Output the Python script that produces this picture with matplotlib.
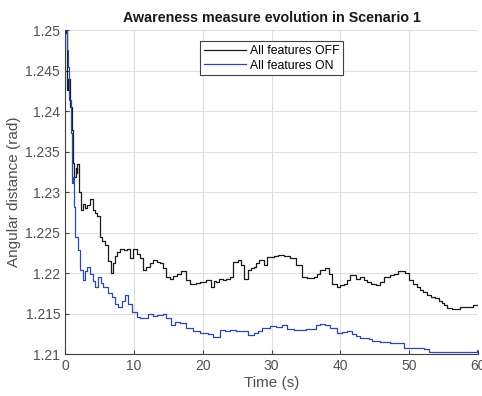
import numpy as np
import matplotlib
matplotlib.use('Agg')
import matplotlib.pyplot as plt

# -----------------------------------------------------------------------------
# data
# -----------------------------------------------------------------------------
t_off = [0.0, 0.14, 0.24, 0.45, 0.72, 0.97, 1.16, 1.35, 1.55, 1.7, 1.8, 2.0,
         2.07, 2.3, 2.65, 2.9, 3.2, 3.6, 4.0, 4.3, 4.6, 5.07, 5.4, 5.8, 6.2,
         6.66, 7.0, 7.25, 7.6, 7.97, 8.5, 8.94, 9.4, 9.9, 10.4, 10.9, 11.35,
         11.8, 12.3, 12.8, 13.3, 13.77, 14.2, 14.7, 15.2, 15.7, 16.2, 16.9,
         17.6, 18.1, 19.0, 19.6, 20.5, 21.2, 21.6, 21.97, 22.4, 22.9, 23.4,
         23.9, 24.4, 25.1, 25.5, 26.0, 26.5, 27.0, 27.4, 27.8, 28.2, 28.9,
         29.4, 30.3, 31.0, 31.8, 32.7, 33.5, 34.4, 35.2, 36.1, 36.6, 37.1,
         37.8, 38.3, 38.8, 39.5, 40.0, 40.5, 41.0, 41.4, 42.2, 42.9, 43.4,
         43.9, 44.5, 45.1, 45.7, 46.3, 47.2, 47.8, 48.4, 49.4, 49.9, 50.6,
         51.1, 51.6, 52.0, 52.5, 53.1, 53.8, 54.3, 54.7, 55.1, 55.5, 56.2,
         56.9, 57.4, 58.1, 58.8, 59.3, 59.9, 60.0]
v_off = [1.2500, 1.2496, 1.2426, 1.2440, 1.2405, 1.2377, 1.2336, 1.2318,
         1.2330, 1.2323, 1.2335, 1.2316, 1.2300, 1.2278, 1.2285, 1.2280,
         1.2284, 1.2292, 1.2278, 1.2274, 1.2270, 1.2245, 1.2240, 1.2235,
         1.2215, 1.2200, 1.2212, 1.2221, 1.2226, 1.2230, 1.2228, 1.2230,
         1.2219, 1.2230, 1.2224, 1.2218, 1.2204, 1.2208, 1.2212, 1.2216,
         1.2214, 1.2212, 1.2206, 1.2195, 1.2193, 1.2196, 1.2199, 1.2203,
         1.2191, 1.2187, 1.2188, 1.2189, 1.2191, 1.2183, 1.2190, 1.2189,
         1.2193, 1.2191, 1.2193, 1.2195, 1.2214, 1.2216, 1.2210, 1.2193,
         1.2204, 1.2206, 1.2208, 1.2212, 1.2216, 1.2210, 1.2220, 1.2221,
         1.2222, 1.2221, 1.2218, 1.2210, 1.2195, 1.2194, 1.2195, 1.2199,
         1.2204, 1.2206, 1.2199, 1.2187, 1.2183, 1.2185, 1.2187, 1.2192,
         1.2198, 1.2193, 1.2195, 1.2192, 1.2189, 1.2187, 1.2185, 1.2189,
         1.2195, 1.2197, 1.2199, 1.2202, 1.2200, 1.2191, 1.2187, 1.2183,
         1.2179, 1.2176, 1.2173, 1.2171, 1.2169, 1.2166, 1.2163, 1.2160,
         1.2157, 1.2156, 1.2155, 1.2158, 1.2158, 1.2158, 1.2161, 1.2160,
         1.2160]

t_on = [0.0, 0.14, 0.34, 0.48, 0.63, 0.82, 1.01, 1.2, 1.3, 1.45, 1.9, 2.2,
        2.65, 2.9, 3.14, 3.6, 4.0, 4.35, 4.8, 5.2, 5.55, 6.3, 6.8, 7.25,
        7.7, 8.2, 8.7, 9.2, 9.66, 10.4, 10.9, 11.35, 12.07, 12.7, 13.3,
        14.2, 14.7, 15.45, 16.0, 16.65, 17.6, 18.6, 19.55, 20.75, 21.5,
        22.45, 23.2, 23.9, 24.9, 25.5, 26.5, 27.4, 28.0, 28.6, 29.8, 30.6,
        31.5, 32.3, 33.2, 34.2, 35.0, 35.9, 36.4, 37.1, 37.8, 38.5, 39.5,
        40.2, 40.95, 41.7, 42.3, 42.9, 44.1, 44.6, 45.8, 47.2, 48.7, 49.2,
        50.5, 52.1, 52.8, 53.5, 54.5, 56.9, 58.5, 59.3, 59.8, 60.0]
v_on = [1.2500, 1.2502, 1.2475, 1.2455, 1.2414, 1.2373, 1.2311, 1.2319,
        1.2282, 1.2245, 1.2228, 1.2204, 1.2191, 1.2202, 1.2208, 1.2199,
        1.2190, 1.2183, 1.2195, 1.2188, 1.2183, 1.2175, 1.2170, 1.2162,
        1.2158, 1.2165, 1.2173, 1.2162, 1.2152, 1.2146, 1.2145, 1.2144,
        1.2150, 1.2147, 1.2148, 1.2150, 1.2144, 1.2136, 1.2139, 1.2138,
        1.2132, 1.2128, 1.2126, 1.2125, 1.2121, 1.2130, 1.2129, 1.2130,
        1.2128, 1.2128, 1.2124, 1.2126, 1.2129, 1.2132, 1.2134, 1.2133,
        1.2136, 1.2131, 1.2130, 1.2130, 1.2131, 1.2131, 1.2136, 1.2137,
        1.2136, 1.2132, 1.2126, 1.2127, 1.2128, 1.2125, 1.2122, 1.2120,
        1.2119, 1.2116, 1.2115, 1.2114, 1.2113, 1.2108, 1.2107, 1.2106,
        1.2103, 1.2103, 1.2102, 1.2102, 1.2102, 1.2103, 1.2105, 1.2105]

xticks = [0, 10, 20, 30, 40, 50, 60]
yticks = [1.21, 1.215, 1.22, 1.225, 1.23, 1.235, 1.24, 1.245, 1.25]
ytick_labels = ['1.21', '1.215', '1.22', '1.225', '1.23', '1.235', '1.24',
                '1.245', '1.25']

# -----------------------------------------------------------------------------
# plot
# -----------------------------------------------------------------------------
plt.rcParams['font.family'] = ['Liberation Sans', 'DejaVu Sans']

fig = plt.figure(figsize=(4.82, 3.96), dpi=100)
ax = fig.add_axes([0.135, 0.106, 0.857, 0.818])

ax.plot(t_off, v_off, color='#1a1a1a', linewidth=0.9, drawstyle='steps-post',
        label='All features OFF')
ax.plot(t_on, v_on, color='#2b4aa8', linewidth=0.9, drawstyle='steps-post',
        label='All features ON')

ax.set_xlim(0, 60)
ax.set_ylim(1.21, 1.25)
ax.set_xticks(xticks)
ax.set_yticks(yticks)
ax.set_yticklabels(ytick_labels)

ax.grid(True, color='#dedede', linewidth=0.8)
ax.set_axisbelow(True)

# matlab-ish box off
for side in ['top', 'right']:
    ax.spines[side].set_visible(False)
for side in ['left', 'bottom']:
    ax.spines[side].set_color('#404040')
    ax.spines[side].set_linewidth(0.8)
ax.tick_params(axis='both', direction='in', length=3, width=0.8,
               colors='#404040', labelsize=10, labelcolor='#505050')

ax.set_xlabel('Time (s)', fontsize=11, color='#505050', labelpad=2)
ax.set_ylabel('Angular distance (rad)', fontsize=11, color='#505050',
              labelpad=3)
ax.set_title('Awareness measure evolution in Scenario 1', fontsize=10.3,
             fontweight='bold', color='#1a1a1a', pad=6)

leg = ax.legend(loc='upper center', bbox_to_anchor=(0.5, 0.965), fontsize=8.8,
                fancybox=False, framealpha=1, edgecolor='#404040',
                handlelength=3.5, handletextpad=0.3, borderpad=0.3,
                labelspacing=0.2, borderaxespad=0)
leg.get_frame().set_linewidth(0.8)

fig.savefig('out.png', dpi=100)
